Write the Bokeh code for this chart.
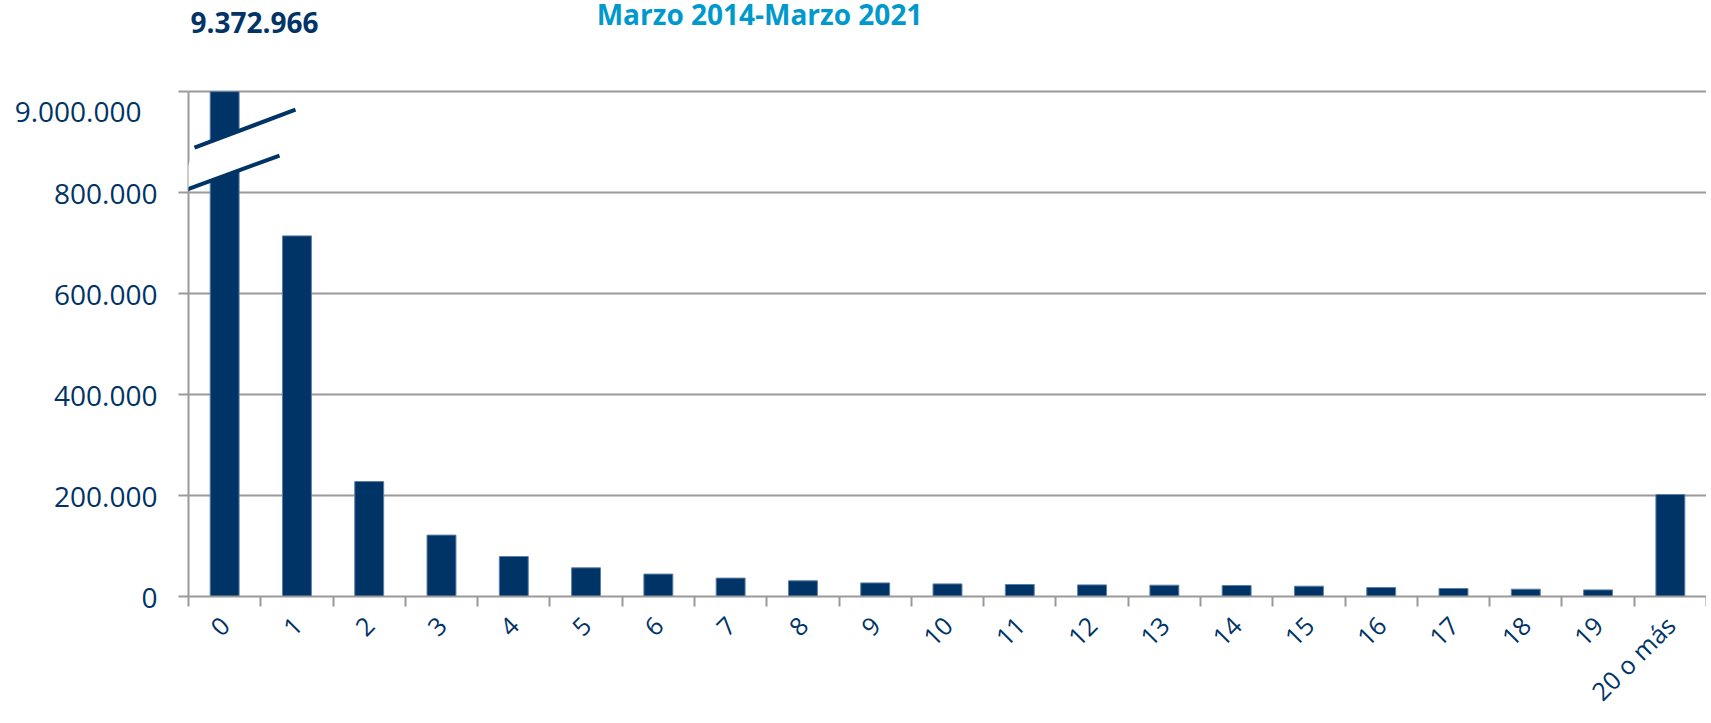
import math
from bokeh.plotting import figure
from bokeh.models import (FixedTicker, Range1d, PolyAnnotation, Arrow, Label,
                          ColumnDataSource, LinearAxis)
from bokeh.embed import file_html
from bokeh.resources import INLINE

# ---- data ----
categories = [str(i) for i in range(20)] + ["20 o más"]
values = [9372966, 714300, 227700, 121600, 79200, 56800, 44400, 36400, 31100,
          26900, 25000, 23800, 23000, 22400, 21800, 20400, 17800, 15800, 14500,
          13100, 202000]
y_ticks = [0, 200000, 400000, 600000, 800000, 1000000]
y_tick_labels = ["0", "200.000", "400.000", "600.000", "800.000"]
break_tick_label = "9.000.000"
top_value_label = "9.372.966"
title_text = "Marzo 2014-Marzo 2021"

NAVY = "#003366"
GRAY = "#9a9a9a"
FONT = "Open Sans"
AXIS_TOP = 1000000                 # top of the (broken) value axis
BREAK_LABEL_Y = 962400             # screen position of the "9.000.000" label
Y_END = AXIS_TOP * 595 / 504       # headroom above the axis for the texts

x_pos = [i + 0.5 for i in range(len(categories))]
# broken axis: bars taller than the axis are drawn up to the axis top
shown_top = [min(v, AXIS_TOP) for v in values]
src = ColumnDataSource(dict(x=x_pos, top=shown_top, value=values, cat=categories))

p = figure(width=1706, height=722, output_backend="svg", toolbar_location=None,
           x_range=Range1d(0, len(categories)), y_range=Range1d(0, Y_END),
           min_border_left=188, min_border_right=0, min_border_top=0,
           min_border_bottom=120)
p.outline_line_color = None
p.background_fill_color = "white"

p.vbar(x="x", top="top", width=0.4, bottom=0, source=src,
       fill_color=NAVY, line_color="#5b7fa6", line_width=1)

# inner y axis: line + tick marks
yax = p.yaxis[0]
yax.ticker = FixedTicker(ticks=y_ticks, minor_ticks=[])
yax.bounds = (0, AXIS_TOP)
yax.major_label_overrides = {t: "" for t in y_ticks}
yax.major_label_standoff = 0
yax.major_tick_in = 0
yax.major_tick_out = 10
yax.major_tick_line_color = GRAY
yax.major_tick_line_width = 2
yax.minor_tick_line_color = None
yax.minor_tick_out = 0
yax.axis_line_color = GRAY
yax.axis_line_width = 2

# outer y axis: the labels
lab_ticks = y_ticks[:-1] + [BREAK_LABEL_Y]
lab_text = y_tick_labels + [break_tick_label + "\u2007"]
yl = LinearAxis(ticker=FixedTicker(ticks=lab_ticks, minor_ticks=[]),
                major_label_overrides={t: l for t, l in zip(lab_ticks, lab_text)},
                axis_line_color=None, major_tick_line_color=None,
                minor_tick_line_color=None, major_tick_in=0, major_tick_out=0,
                minor_tick_in=0, minor_tick_out=0, major_label_standoff=21,
                major_label_text_font=FONT, major_label_text_font_size="28px",
                major_label_text_color=NAVY)
p.add_layout(yl, "left")

# x axis
xax = p.xaxis[0]
xax.ticker = FixedTicker(ticks=x_pos, minor_ticks=list(range(len(categories) + 1)))
xax.major_label_overrides = {x: c for x, c in zip(x_pos, categories)}
xax.major_label_orientation = math.pi / 4
xax.major_label_text_font = FONT
xax.major_label_text_font_size = "25px"
xax.major_label_text_color = NAVY
xax.major_label_standoff = 14
xax.major_tick_in = 0
xax.major_tick_out = 0
xax.major_tick_line_color = None
xax.minor_tick_in = 0
xax.minor_tick_out = 10
xax.minor_tick_line_color = GRAY
xax.minor_tick_line_width = 2
xax.axis_line_color = GRAY
xax.axis_line_width = 2

p.xgrid.grid_line_color = None
p.ygrid.ticker = FixedTicker(ticks=y_ticks)
p.ygrid.grid_line_color = GRAY
p.ygrid.grid_line_width = 2

# axis break marks
bx = [-0.138, 1.259, 1.480, 0.083]
by = [800000, 873300, 964400, 889100]
p.add_layout(PolyAnnotation(xs=bx, ys=by, fill_color="white", fill_alpha=1.0,
                            line_color=None, level="overlay"))
p.add_layout(Arrow(end=None, x_start=bx[0], y_start=by[0], x_end=bx[1], y_end=by[1],
                   line_color=NAVY, line_width=4, level="overlay"))
p.add_layout(Arrow(end=None, x_start=bx[3], y_start=by[3], x_end=bx[2], y_end=by[2],
                   line_color=NAVY, line_width=4, level="overlay"))

# texts above the axis
p.add_layout(Label(x=0, x_offset=2, y=AXIS_TOP, y_offset=69, text=top_value_label,
                   text_align="left", text_baseline="alphabetic", text_font=FONT,
                   text_font_size="28px", text_font_style="bold", text_color=NAVY,
                   level="overlay"))
p.add_layout(Label(x=7.90, y=AXIS_TOP, y_offset=78, text=title_text,
                   text_align="center", text_baseline="alphabetic", text_font=FONT,
                   text_font_size="28px", text_font_style="bold", text_color="#0099cc",
                   level="overlay"))

open("out.html", "w").write(file_html(p, INLINE))
